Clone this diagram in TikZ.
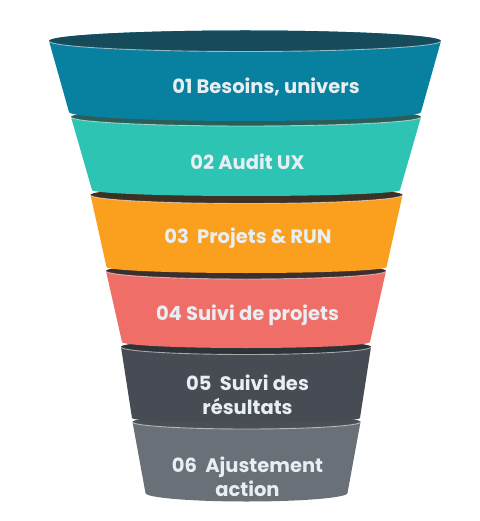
\documentclass[tikz,border=0pt]{standalone}
\usepackage{fontspec}
\newfontfamily\popfont{Poppins}
\definecolor{c1}{HTML}{08809F}\definecolor{d1}{HTML}{164B5C}
\definecolor{c2}{HTML}{2EC4B3}\definecolor{d2}{HTML}{2A5E58}
\definecolor{c3}{HTML}{FB9F1E}\definecolor{d3}{HTML}{3D3126}
\definecolor{c4}{HTML}{EF6F68}\definecolor{d4}{HTML}{3B2E2E}
\definecolor{c5}{HTML}{474B53}\definecolor{d5}{HTML}{2E3338}
\definecolor{c6}{HTML}{6A7078}\definecolor{d6}{HTML}{4A4F55}
\definecolor{txt}{HTML}{E8EFF3}
% cx, yt, wt, yb, wb, rt, rb, body, dark
\newcommand\fseg[9]{%
  \fill[#8] ({#1-#3},#2) -- ({#1-#5},#4)
    arc[start angle=180,end angle=0,x radius=#5,y radius=#7]
    -- ({#1+#3},#2)
    arc[start angle=0,end angle=-180,x radius=#3,y radius=#6] -- cycle;
  \fill[#9] (#1,#2) ellipse[x radius=#3,y radius=#6];
  \draw[white,opacity=.55,line width=.9pt] ({#1-#3},#2)
    arc[start angle=180,end angle=0,x radius=#3,y radius=#6];
}
\tikzset{lbl/.style={text=txt,font=\popfont\bfseries\fontsize{19.5}{23.5}\selectfont,align=center,inner sep=0pt}}
\begin{document}
\begin{tikzpicture}[x=1pt,y=-1pt]
\useasboundingbox (0,0) rectangle (479,521);
\fseg{246.5}{422}{114}{493}{101}{7}{8.5}{c6}{d6}
\fseg{246}{347}{125}{418}{114}{7.5}{5}{c5}{d5}
\fseg{246}{271}{140}{342}{124}{8}{6}{c4}{d4}
\fseg{246.5}{195}{156}{267}{140}{8.5}{6}{c3}{d3}
\fseg{246}{117}{175}{190}{154}{9}{6}{c2}{d2}
\fseg{245}{41}{196}{112}{176}{10.5}{9}{c1}{d1}
\node[lbl] (t1) at (266,87) {01 Besoins, univers};
\node[lbl] (t2) at (247.5,162) {02 Audit UX};
\node[lbl] (t3) at (248,238) {03\ \ Projets \& RUN};
\node[lbl] (t4) at (247.5,315) {04 Suivi de projets};
\node[lbl] (t5) at (247.5,395) {05\ \ Suivi des\\résultats};
\node[lbl] (t6) at (247.5,477) {06\ \ Ajustement\\action};
\end{tikzpicture}
\end{document}
